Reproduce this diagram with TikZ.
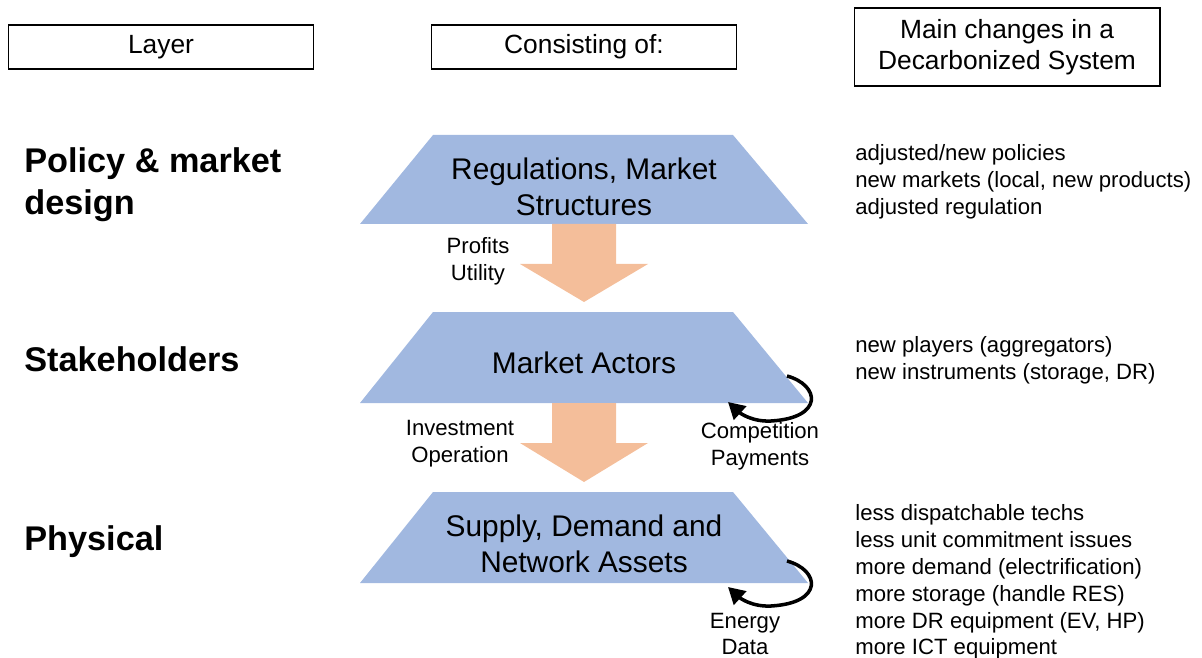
\documentclass[tikz,border=0pt]{standalone}
\usepackage{fontspec}
\setmainfont{Liberation Sans}
\usetikzlibrary{arrows.meta}
\definecolor{tierblue}{HTML}{A1B8E0}
\definecolor{floworange}{HTML}{F4BE9A}
\tikzset{
    layer diagram/.style = {x=0.02cm, y=-0.02cm},
    header/.style        = {draw, semithick, minimum width=6.1cm,
                            minimum height=0.88cm, align=center,
                            font=\fontsize{15}{17.6}\selectfont},
    tier/.style          = {fill=tierblue},
    tier text/.style     = {align=center,
                            font=\fontsize{17}{20.4}\selectfont},
    flow/.style          = {fill=floworange},
    layer name/.style    = {anchor=west, align=left, inner sep=0pt,
                            font=\fontsize{19.5}{23.8}\selectfont\bfseries},
    note/.style          = {align=center, inner sep=0pt,
                            font=\fontsize{12.6}{15.3}\selectfont},
    changes/.style       = {note, anchor=west, align=left},
    loop/.style          = {line width=2pt,
                            -{Triangle[length=3.3mm, width=3.6mm]}}
}
\begin{document}
\begin{tikzpicture}[layer diagram]
\useasboundingbox (0,0) rectangle (1202,658);

% Column headers
\node[header] (hlayer) at (161,47) {Layer};
\node[header] (hcons) at (584,47) {Consisting of:};
\node[header, minimum height=1.56cm, minimum width=6.12cm] (hchange)
    at (1007,47) {Main changes in a\\Decarbonized System};

% Layer trapezoids
\fill[tier] (433,135) -- (733,135) -- (808,224) -- (360,224) -- cycle;
\node[tier text] (rules) at (584,187) {Regulations, Market\\Structures};
\fill[tier] (433,312) -- (733,312) -- (808,403) -- (360,403) -- cycle;
\node[tier text] (actors) at (584,363) {Market Actors};
\fill[tier] (433,492) -- (733,492) -- (808,583) -- (360,583) -- cycle;
\node[tier text] (assets) at (584,544) {Supply, Demand and\\Network Assets};

% Block arrows between layers
\fill[flow] (552,224) -- (616,224) -- (616,264) -- (648,264)
    -- (584,302) -- (520,264) -- (552,264) -- cycle;
\fill[flow] (552,403) -- (616,403) -- (616,443) -- (648,443)
    -- (584,482) -- (520,443) -- (552,443) -- cycle;
\node[note] (profits) at (478,261) {Profits\\Utility};
\node[note] (invest) at (460,444) {Investment\\Operation};

% Feedback loops at the right corners
\coordinate (loopA) at (787,376);
\draw[loop] (loopA) .. controls (820,385) and (824,418) .. (771,421)
    .. controls (752,422) and (740,413) .. (728,402);
\node[note] (compet) at (760,446) {Competition\\Payments};
\coordinate (loopB) at (787,561);
\draw[loop] (loopB) .. controls (820,570) and (824,603) .. (771,606)
    .. controls (752,607) and (740,598) .. (728,587);
\node[note] (energy) at (745,634) {Energy\\Data};

% Layer names
\node[layer name] (lpolicy) at (24,185) {Policy \& market\\design};
\node[layer name] (lstake) at (24,359) {Stakeholders};
\node[layer name] (lphys) at (24,542) {Physical};

% Main changes per layer
\node[changes] (cpolicy) at (855,182)
    {adjusted/new policies\\new markets (local, new products)\\adjusted regulation};
\node[changes] (cstake) at (855,360)
    {new players (aggregators)\\new instruments (storage, DR)};
\node[changes] (cphys) at (855,582)
    {less dispatchable techs\\less unit commitment issues\\more demand (electrification)\\
     more storage (handle RES)\\more DR equipment (EV, HP)\\more ICT equipment};

\end{tikzpicture}
\end{document}
